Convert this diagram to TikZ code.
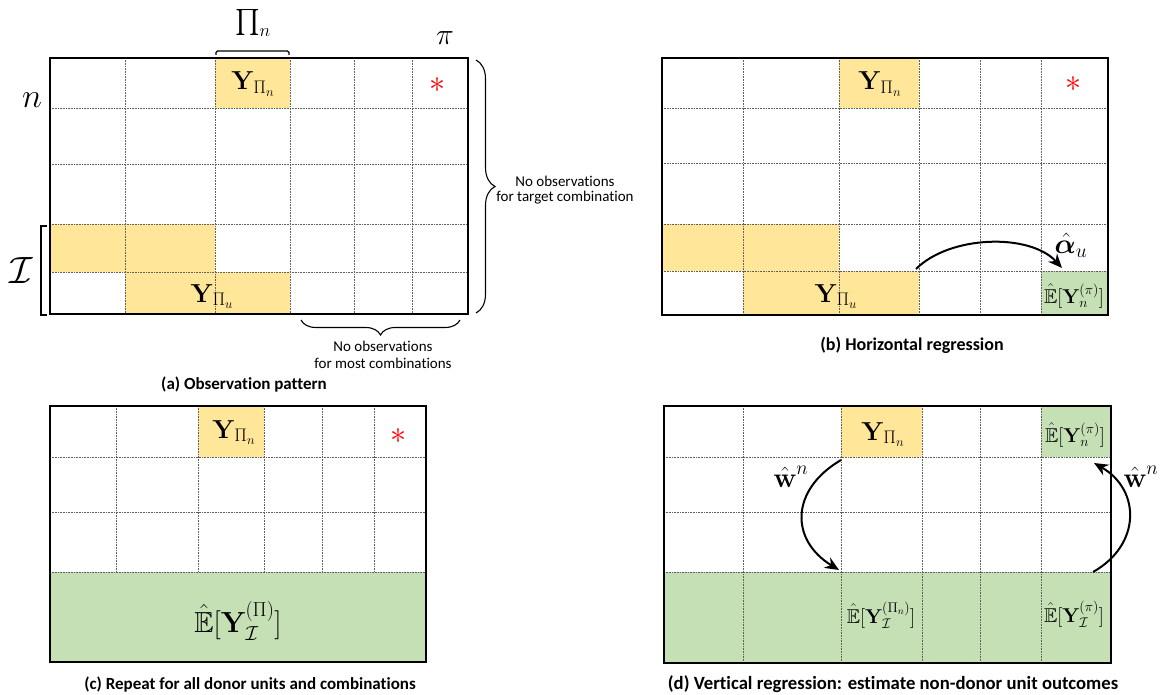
\documentclass[tikz,border=0pt]{standalone}
\usepackage{fix-cm}
\usepackage{amsmath,amssymb,bm}
\usepackage{fontspec}
\newfontfamily\carlito[Ligatures=NoCommon]{Carlito}
\usetikzlibrary{decorations.pathreplacing,arrows.meta}
\definecolor{cellyellow}{HTML}{FFE699}
\definecolor{cellgreen}{HTML}{C5E0B4}
\definecolor{gridgray}{HTML}{5F5F5F}
\newcommand{\fsz}[2]{\fontsize{#1}{#2}\selectfont}
\newcommand{\bfY}{\text{\normalfont\bfseries Y}}
\newcommand{\bfw}{\text{\normalfont\bfseries w}}
\begin{document}
\begin{tikzpicture}[x=1pt,y=-1pt,
  border/.style={line width=1.6pt},
  gridline/.style={gridgray, line width=0.6pt, densely dotted},
  ylab/.style={inner sep=0pt, anchor=base, font=\fsz{26}{30}},
  elab/.style={inner sep=0pt, anchor=base, font=\fsz{20}{24}},
  starlab/.style={inner sep=0pt, text=red, font=\fsz{32}{34}},
  ann/.style={anchor=base, inner sep=0pt, font=\fsz{15}{17}\carlito},
  captxt/.style={anchor=base, inner sep=0pt, font=\fsz{17}{20}\carlito\bfseries},
  bigarrow/.style={line width=2pt, -{Stealth[length=14pt,width=12pt]}},
  bracketline/.style={line width=1.1pt},
]
\useasboundingbox (0,0) rectangle (1164,695);

% ---------------- Panel (a) ----------------
\fill[cellyellow] (215,58) rectangle (290,108);
\fill[cellyellow] (50,224) rectangle (215,272);
\fill[cellyellow] (125,272) rectangle (290,314);
\foreach \x in {125,215,290,354,412} \draw[gridline] (\x,58) -- (\x,314);
\foreach \y in {108,164,224,272} \draw[gridline] (50,\y) -- (468,\y);
\draw[border] (50,58) rectangle (468,314);
\node[ylab] (a-yn) at (253,90) {$\bfY_{\Pi_n}$};
\node[ylab] (a-yu) at (212,302) {$\bfY_{\Pi_u}$};
\node[starlab] (a-star) at (437,85) {$\ast$};
\node[anchor=base, inner sep=0pt, font=\fsz{26}{30}] (a-pin) at (253,29.5) {$\prod_n$};
\node[anchor=base, inner sep=0pt, font=\fsz{30}{34}] (a-pi) at (445,45) {$\pi$};
\node[anchor=base, inner sep=0pt, font=\fsz{34}{38}] (a-n) at (32,108) {$n$};
\node[anchor=base, inner sep=0pt, font=\fsz{38}{42}] (a-I) at (21,283) {$\mathcal{I}$};
\draw[bracketline, rounded corners=1.5pt] (216,55) -- (216,51) -- (289,51) -- (289,55);
\draw[bracketline] (47,226) -- (41,226) -- (41,315) -- (47,315);
\draw[bracketline, decorate, decoration={brace, amplitude=19pt}] (476,60) -- (476,313);
\draw[bracketline, decorate, decoration={brace, amplitude=15pt}] (460,320) -- (301,320);
\node[ann] (a-r1) at (565,186) {No observations};
\node[ann] (a-r2) at (565,202) {for target combination};
\node[ann] (a-b1) at (383,351) {No observations};
\node[ann] (a-b2) at (383,368) {for most combinations};
\node[captxt] (capA) at (244,389) {(a) Observation pattern};

% ---------------- Panel (b) ----------------
\fill[cellyellow] (839,58) rectangle (919,108);
\fill[cellyellow] (662,224) rectangle (839,271);
\fill[cellyellow] (743,271) rectangle (919,315);
\fill[cellgreen] (1041,271) rectangle (1108,315);
\foreach \x in {743,839,919,980,1041} \draw[gridline] (\x,58) -- (\x,315);
\foreach \y in {108,163,224,271} \draw[gridline] (662,\y) -- (1108,\y);
\draw[border] (662,58) rectangle (1108,315);
\node[ylab] (b-yn) at (880,90) {$\bfY_{\Pi_n}$};
\node[ylab] (b-yu) at (836,302) {$\bfY_{\Pi_u}$};
\node[starlab] (b-star) at (1073,84) {$\ast$};
\node[elab] (b-e) at (1074,303) {$\hat{\mathbb{E}}[\bfY_n^{(\pi)}]$};
\node[anchor=base, inner sep=0pt, font=\fsz{28}{30}] (b-alpha) at (1071,253) {$\hat{\bm{\alpha}}_u$};
\coordinate (b-s) at (916,269);
\coordinate (b-t) at (1062,268);
\draw[bigarrow] (b-s) .. controls (950,235) and (1030,233) .. (b-t);
\node[captxt, font=\fsz{18}{20}\carlito\bfseries] (capB) at (912,350.5) {(b) Horizontal regression};

% ---------------- Panel (c) ----------------
\fill[cellyellow] (198,406) rectangle (264,457);
\fill[cellgreen] (50,572) rectangle (426,662);
\foreach \x in {116,198,264,322,374} \draw[gridline] (\x,406) -- (\x,572);
\foreach \y in {457,512,572} \draw[gridline] (50,\y) -- (426,\y);
\draw[border] (50,406) rectangle (426,662);
\node[ylab] (c-yn) at (234,438) {$\bfY_{\Pi_n}$};
\node[starlab] (c-star) at (398,436) {$\ast$};
\node[anchor=base, inner sep=0pt, font=\fsz{29}{34}] (c-e) at (238,632) {$\hat{\mathbb{E}}[\bfY_{\mathcal{I}}^{(\Pi)}]$};
\node[captxt] (capC) at (250,689) {(c) Repeat for all donor units and combinations};

% ---------------- Panel (d) ----------------
\fill[cellyellow] (841,406) rectangle (922,457);
\fill[cellgreen] (1041,406) rectangle (1111,457);
\fill[cellgreen] (664,572) rectangle (1111,663);
\foreach \x in {743,841,922,980,1041} \draw[gridline] (\x,406) -- (\x,663);
\foreach \y in {457,512,572} \draw[gridline] (664,\y) -- (1111,\y);
\draw[border] (664,406) rectangle (1111,663);
\node[ylab] (d-yn) at (883,440) {$\bfY_{\Pi_n}$};
\node[elab] (d-en) at (1075,442) {$\hat{\mathbb{E}}[\bfY_n^{(\pi)}]$};
\node[elab] (d-eIn) at (881,623) {$\hat{\mathbb{E}}[\bfY_{\mathcal{I}}^{(\Pi_n)}]$};
\node[elab] (d-eIp) at (1074,622) {$\hat{\mathbb{E}}[\bfY_{\mathcal{I}}^{(\pi)}]$};
\coordinate (d-ls) at (841,460);
\coordinate (d-lt) at (839,570);
\coordinate (d-rs) at (1093,572);
\coordinate (d-rt) at (1094,463);
\draw[bigarrow] (d-ls) .. controls (790,490) and (790,540) .. (d-lt);
\draw[bigarrow] (d-rs) .. controls (1141,545) and (1141,490) .. (d-rt);
\node[anchor=base, inner sep=0pt, font=\fsz{28}{32}] (d-wl) at (791,487) {$\hat{\bfw}^n$};
\node[anchor=base, inner sep=0pt, font=\fsz{28}{32}] (d-wr) at (1141,487) {$\hat{\bfw}^n$};
\node[captxt, font=\fsz{18.7}{20}\carlito\bfseries] (capD) at (893,689) {(d) Vertical regression: estimate non-donor unit outcomes};
\end{tikzpicture}
\end{document}
